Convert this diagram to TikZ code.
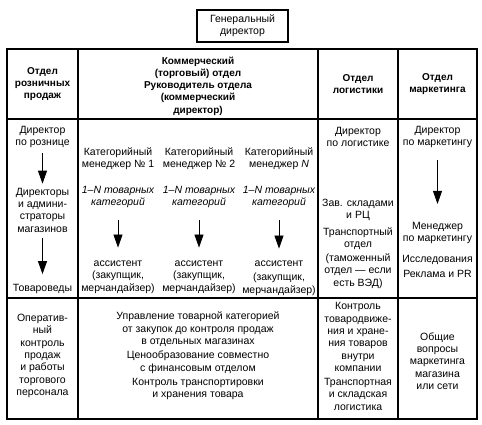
\documentclass[tikz,border=0pt]{standalone}
\usepackage{fontspec}
\setmainfont{Liberation Sans}
\usetikzlibrary{arrows.meta}
\begin{document}
\begin{tikzpicture}[x=1pt,y=-1pt,
  txt/.style={align=center,inner sep=0pt,font=\fontsize{10.5}{12.3}\selectfont},
  hdr/.style={align=center,inner sep=0pt,font=\fontsize{10}{12.3}\selectfont\bfseries},
  gdbox/.style={draw,line width=1.2pt,minimum width=91pt,minimum height=32pt,align=center,inner sep=0pt,font=\fontsize{10.5}{12.3}\selectfont},
  grid/.style={line width=1.7pt},
  arr/.style={line width=0.8pt,-{Triangle[width=9pt,length=13pt]}}]
\useasboundingbox (0,0) rectangle (482,424);
% general director
\node[gdbox] (gd) at (242.5,26) {Генеральный\\директор};
% table
\draw[grid] (7,49) rectangle (477,419);
\draw[grid] (78,49) -- (78,419);
\draw[grid] (318,49) -- (318,419);
\draw[grid] (398,49) -- (398,419);
\draw[grid] (7,119) -- (477,119);
\draw[grid] (7,298) -- (477,298);
% headers
\node[hdr] (h1) at (42.5,84) {Отдел\\розничных\\продаж};
\node[hdr] (h2) at (198,86) {Коммерческий\\(торговый) отдел\\Руководитель отдела\\(коммерческий\\директор)};
\node[hdr] (h3) at (358,84) {Отдел\\логистики};
\node[hdr] (h4) at (437.5,84) {Отдел\\маркетинга};
% column 1
\node[txt] (a1) at (42.5,137) {Директор\\по рознице};
\node[txt] (a2) at (42.5,210) {Директоры\\и админи-\\страторы\\магазинов};
\node[txt] (a3) at (42.5,289) {Товароведы};
\draw[arr,shorten <=5pt,shorten >=4pt] (a1.south) -- (a2.north);
\draw[arr,shorten <=6pt,shorten >=10pt] (a2.south) -- (a3.north);
% column 2
\node[txt] (b1) at (118,159) {Категорийный\\менеджер № 1};
\node[txt] (b2) at (199,159) {Категорийный\\менеджер № 2};
\node[txt] (b3) at (279,159) {Категорийный\\менеджер \textit{N}};
\node[txt,font=\fontsize{10.5}{12.3}\selectfont\itshape] (c1) at (118,197) {1–N товарных\\категорий};
\node[txt,font=\fontsize{10.5}{12.3}\selectfont\itshape] (c2) at (199,197) {1–N товарных\\категорий};
\node[txt,font=\fontsize{10.5}{12.3}\selectfont\itshape] (c3) at (279,197) {1–N товарных\\категорий};
\node[txt] (d1) at (118,277) {ассистент\\(закупщик,\\мерчандайзер)};
\node[txt] (d2) at (199,277) {ассистент\\(закупщик,\\мерчандайзер)};
\node[txt] (d3) at (279,278) {ассистент\\[2pt](закупщик,\\мерчандайзер)};
\draw[arr,shorten <=12pt,shorten >=13pt] (c1.south) -- (d1.north);
\draw[arr,shorten <=12pt,shorten >=13pt] (c2.south) -- (d2.north);
\draw[arr,shorten <=12pt,shorten >=12pt] (c3.south) -- (d3.north);
% column 3
\node[txt] (e1) at (358,137) {Директор\\по логистике};
\node[txt] (e2) at (358,210) {Зав. складами\\и РЦ};
\node[txt] (e3) at (358,238.5) {Транспортный\\отдел};
\node[txt] (e4) at (358,271) {(таможенный\\отдел — если\\есть ВЭД)};
% column 4
\node[txt] (f1) at (437.5,137) {Директор\\по маркетингу};
\node[txt] (f2) at (437.5,233) {Менеджер\\по маркетингу};
\node[txt] (f3) at (437.5,266.5) {Исследования\\[3pt]Реклама и PR};
\draw[arr,shorten <=12pt,shorten >=18pt] (f1.south) -- (f2.north);
% row 3
\node[txt] (g1) at (42.5,356) {Оператив-\\ный\\контроль\\продаж\\и работы\\торгового\\персонала};
\node[txt] (g2) at (198,356) {Управление товарной категорией\\от закупок до контроля продаж\\в отдельных магазинах\\[2pt]Ценообразование совместно\\с финансовым отделом\\[2pt]Контроль транспортировки\\и хранения товара};
\node[txt] (g3) at (358,356.5) {Контроль\\товародвиже-\\ния и хране-\\ния товаров\\внутри\\компании\\[2pt]Транспортная\\и складская\\логистика};
\node[txt] (g4) at (437.5,361) {Общие\\вопросы\\маркетинга\\магазина\\или сети};
\end{tikzpicture}
\end{document}
